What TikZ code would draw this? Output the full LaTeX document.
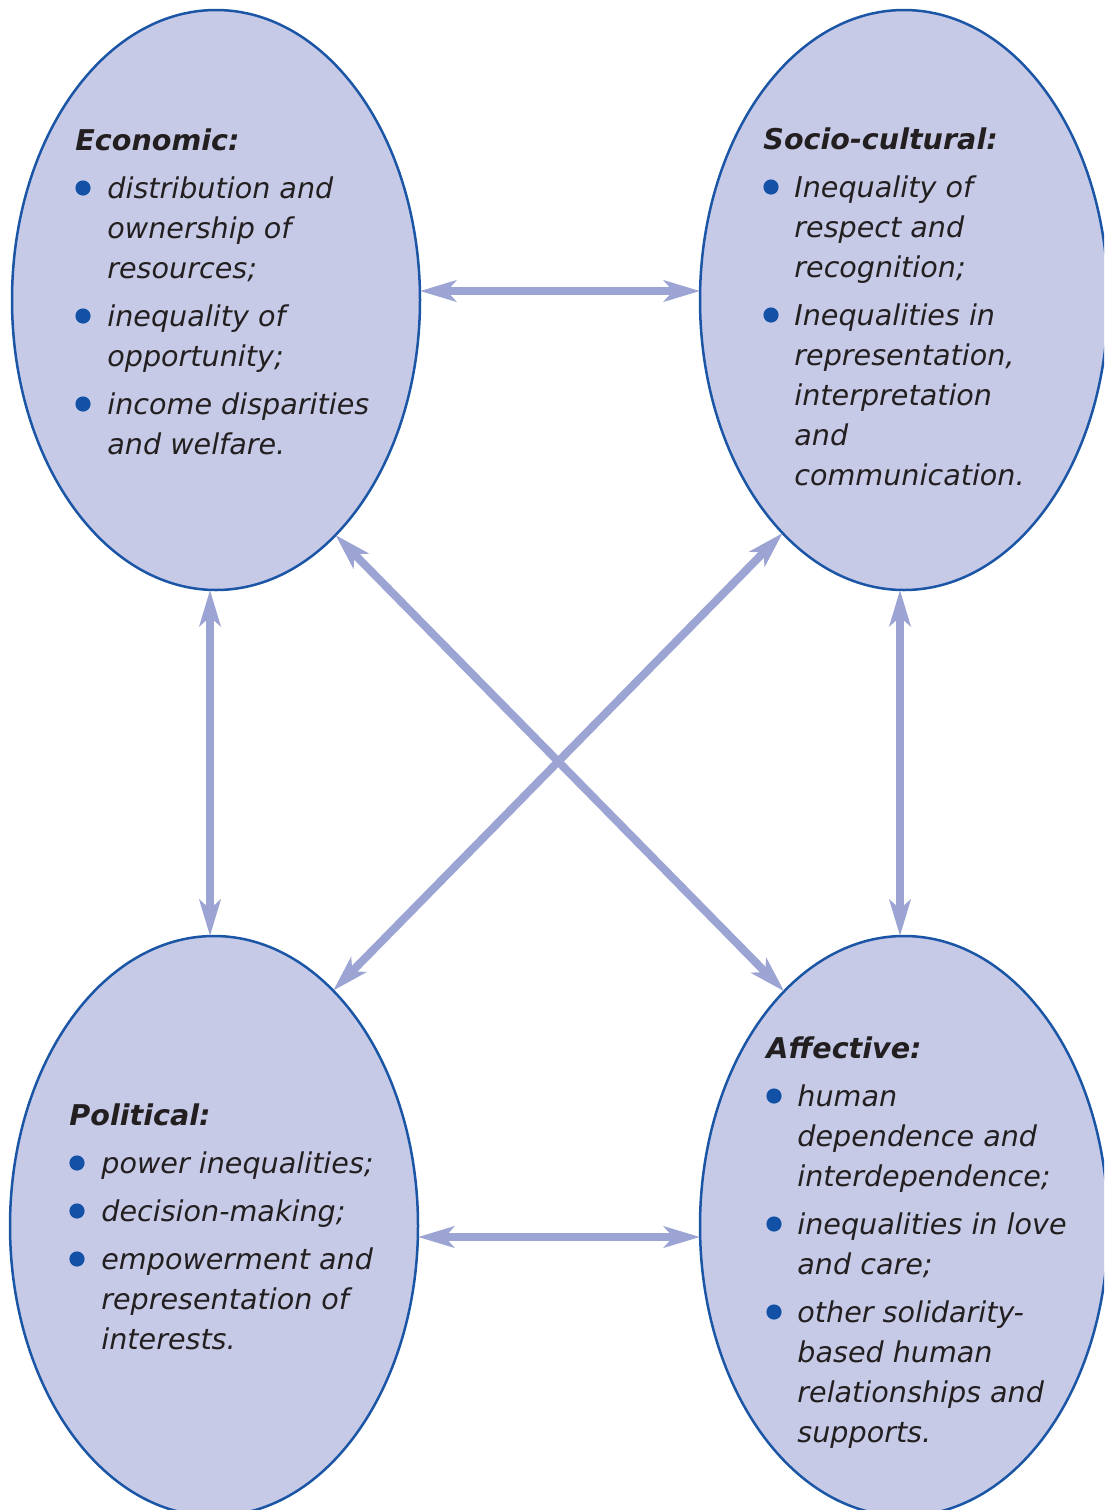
\documentclass[tikz,border=0pt]{standalone}
\usepackage{fontspec}
\setmainfont{DejaVu Sans}
\usetikzlibrary{shapes.geometric,arrows.meta}

\definecolor{ovalfill}{HTML}{C6CAE6}
\definecolor{ovalline}{HTML}{1B55A6}
\definecolor{linkcol}{HTML}{9CA4D3}
\definecolor{dotcol}{HTML}{1351A6}
\definecolor{inkcol}{HTML}{231F20}

% round blue bullet used in the lists
\newsavebox\dotbox
\sbox\dotbox{\tikz\fill[dotcol] (0,0) circle (3.8pt);}
\newcommand\itemdot{\raisebox{1.2pt}{\usebox\dotbox}}

\tikzset{
  oval/.style={ellipse, draw=ovalline, line width=1.25pt, fill=ovalfill,
    minimum width=204pt, minimum height=290pt, inner sep=0pt},
  link/.style={draw=linkcol, line width=4pt,
    {Stealth[length=18pt,width=10.5pt,inset=4.5pt]}-{Stealth[length=18pt,width=10.5pt,inset=4.5pt]}},
  listtext/.style={anchor=base west, inner sep=0pt, text=inkcol,
    font=\fontsize{14.3}{20}\selectfont\itshape}
}

\begin{document}
\begin{tikzpicture}[x=0.5pt, y=-0.5pt]
  \clip (0,0) rectangle (1104,1510);

  % the four dimensions
  \node[oval] (eco) at (216,300) {};
  \node[oval] (soc) at (904,300) {};
  \node[oval] (pol) at (214,1226) {};
  \node[oval] (aff) at (904,1226) {};

  % two-way links between every pair, ending on the ellipse borders
  \draw[link] ([shift={(203.9,-9)}]eco.center) -- ([shift={(-203.9,-9)}]soc.center);
  \draw[link] ([shift={(203.9,11)}]pol.center) -- ([shift={(-203.9,11)}]aff.center);
  \draw[link] ([shift={(-6,289.9)}]eco.center) -- ([shift={(-4,-290)}]pol.center);
  \draw[link] ([shift={(-4,289.9)}]soc.center) -- ([shift={(-4,-290)}]aff.center);
  \draw[link] ([shift={(119.5,235)}]eco.center) -- ([shift={(-119.8,-234.7)}]aff.center);
  \draw[link] ([shift={(-121.4,233.1)}]soc.center) -- ([shift={(119.2,-235.4)}]pol.center);

  \node[listtext] (ecotext) at (75,150) {%
    \begin{tabular}[t]{@{}p{16pt}@{}l@{}}
      \multicolumn{2}{@{}l@{}}{\bfseries Economic:}\\[4pt]
      \itemdot & distribution and\\
               & ownership of\\
               & resources;\\[4pt]
      \itemdot & inequality of\\
               & opportunity;\\[4pt]
      \itemdot & income disparities\\
               & and welfare.
    \end{tabular}};

  \node[listtext] (soctext) at (763,149) {%
    \begin{tabular}[t]{@{}p{15.5pt}@{}l@{}}
      \multicolumn{2}{@{}l@{}}{\bfseries Socio-cultural:}\\[4pt]
      \itemdot & Inequality of\\
               & respect and\\
               & recognition;\\[4pt]
      \itemdot & Inequalities in\\
               & representation,\\
               & interpretation\\
               & and\\
               & communication.
    \end{tabular}};

  \node[listtext] (poltext) at (69,1125) {%
    \begin{tabular}[t]{@{}p{16pt}@{}l@{}}
      \multicolumn{2}{@{}l@{}}{\bfseries Political:}\\[4pt]
      \itemdot & power inequalities;\\[4pt]
      \itemdot & decision-making;\\[4pt]
      \itemdot & empowerment and\\
               & representation of\\
               & interests.
    \end{tabular}};

  \node[listtext] (afftext) at (766,1058) {%
    \begin{tabular}[t]{@{}p{15.5pt}@{}l@{}}
      \multicolumn{2}{@{}l@{}}{\bfseries Affective:}\\[4pt]
      \itemdot & human\\
               & dependence and\\
               & interdependence;\\[4pt]
      \itemdot & inequalities in love\\
               & and care;\\[4pt]
      \itemdot & other solidarity-\\
               & based human\\
               & relationships and\\
               & supports.
    \end{tabular}};
\end{tikzpicture}
\end{document}
